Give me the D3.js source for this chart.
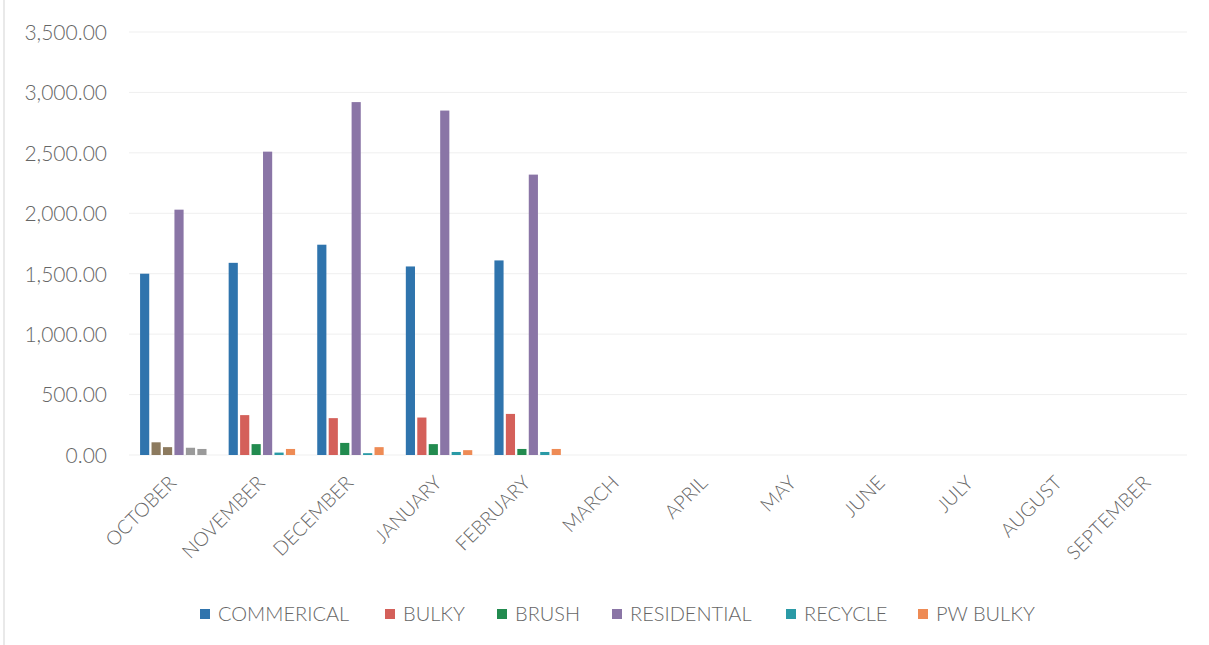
<!DOCTYPE html>
<html><head><meta charset="utf-8">
<script src="https://cdn.jsdelivr.net/npm/d3@7"></script>
<style>body{margin:0;background:#fff;} text{font-family:Lato,"Open Sans",sans-serif;font-weight:300;}</style>
</head><body><svg id="c" width="1209" height="645"></svg>
<script>
const months = ["OCTOBER","NOVEMBER","DECEMBER","JANUARY","FEBRUARY","MARCH","APRIL","MAY","JUNE","JULY","AUGUST","SEPTEMBER"];
const seriesNames = ["COMMERICAL","BULKY","BRUSH","RESIDENTIAL","RECYCLE","PW BULKY"];
const seriesColors = ["#2f74ad","#d4605a","#228b4f","#8a75a6","#2a9aa6","#ee8b55"];
const commercial = [1500,1590,1740,1560,1610];
const bulky = [105,330,305,310,340];
const brush = [65,90,100,90,50];
const residential = [2030,2510,2920,2850,2320];
const recycle = [60,20,15,25,25];
const pwBulky = [50,50,65,40,50];
const octoberColors = ["#2f74ad","#8c7a5e","#8c7a5e","#8a75a6","#9a9a9a","#9a9a9a"];
const yTicks = [0,500,1000,1500,2000,2500,3000,3500];

const values = [commercial,bulky,brush,residential,recycle,pwBulky];
const svg = d3.select("#c");
svg.append("rect").attr("x",4).attr("y",-2).attr("width",1210).attr("height",660).attr("fill","none").attr("stroke","#e2e2e2").attr("stroke-width",1.5);

const x = d3.scaleBand().domain(months).range([129,1192]);
const bw = x.bandwidth();
const xs = d3.scaleBand().domain(seriesNames).range([bw*0.125, bw*0.875]).paddingInner(0.2);
const y = d3.scaleLinear().domain([0,3500]).range([455,32]);

const g = svg.append("g");
g.selectAll("line.grid").data(yTicks).join("line")
  .attr("x1",129).attr("x2",1187).attr("y1",d=>y(d)).attr("y2",d=>y(d))
  .attr("stroke","#efefef").attr("stroke-width",1);

const yAxis = g.append("g").attr("transform","translate(107,0)")
  .call(d3.axisLeft(y).tickValues(yTicks).tickSize(0).tickFormat(d3.format(",.2f")));
yAxis.select(".domain").remove();
yAxis.selectAll("text").attr("font-size",21).attr("fill","#666").attr("x",0).attr("dy","0.35em");

seriesNames.forEach((s,si)=>{
  g.selectAll("rect.s"+si).data(values[si]).join("rect")
    .attr("x",(d,i)=>x(months[i])+xs(s))
    .attr("width",xs.bandwidth())
    .attr("y",d=>y(d)).attr("height",d=>y(0)-y(d))
    .attr("fill",(d,i)=> i===0 ? octoberColors[si] : seriesColors[si]);
});

const xAxis = g.append("g").attr("transform","translate(0,455)")
  .call(d3.axisBottom(x).tickSize(0));
xAxis.select(".domain").remove();
xAxis.selectAll("text").attr("font-size",19.5).attr("fill","#666")
  .attr("text-anchor","end").attr("dy",0).attr("y",0)
  .attr("transform","translate(4,29) rotate(-45)");

const legX = [200,385,497,612,786,918];
const leg = svg.append("g");
seriesNames.forEach((s,i)=>{
  leg.append("rect").attr("x",legX[i]).attr("y",609).attr("width",10).attr("height",10).attr("fill",seriesColors[i]);
  leg.append("text").attr("x",legX[i]+18).attr("y",614).attr("dy","0.35em").attr("font-size",20).attr("fill","#666").text(s);
});
</script></body></html>
